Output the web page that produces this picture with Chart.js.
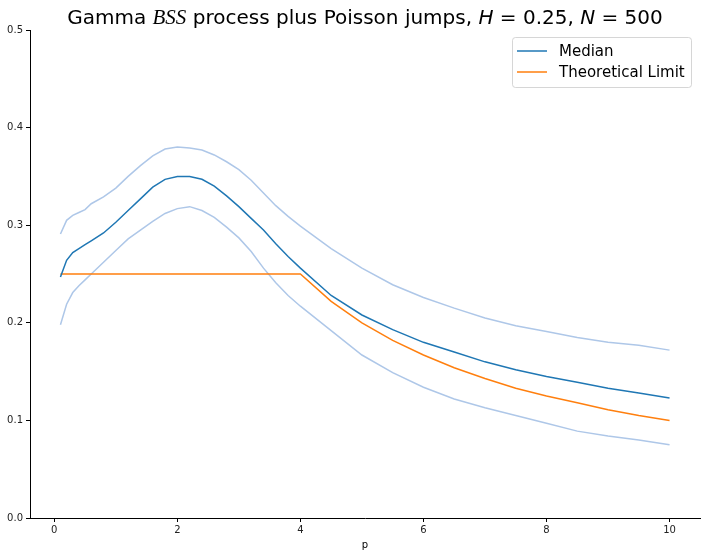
<!DOCTYPE html>
<html>
<head>
<meta charset="utf-8">
<script src="https://cdn.jsdelivr.net/npm/chart.js@4.4.1/dist/chart.umd.min.js"></script>
<style>
  html, body { margin: 0; padding: 0; background: #fff; }
  #wrap { width: 706px; height: 557px; position: relative; }
</style>
</head>
<body>
<div id="wrap"><canvas id="chart"></canvas></div>
<script>
  // values
  const pValues = [0.1, 0.2, 0.3, 0.4, 0.5, 0.6, 0.8, 1.0, 1.2, 1.4, 1.6, 1.8, 2.0, 2.2, 2.4, 2.6, 2.8, 3.0,
                   3.2, 3.4, 3.6, 3.8, 4.0, 4.5, 5.0, 5.5, 6.0, 6.5, 7.0, 7.5, 8.0, 8.5, 9.0, 9.5, 10.0];
  const median  = [0.247, 0.264, 0.272, 0.276, 0.280, 0.284, 0.292, 0.303, 0.315, 0.327, 0.339, 0.347, 0.350, 0.350,
                   0.347, 0.340, 0.330, 0.319, 0.307, 0.295, 0.281, 0.268, 0.256, 0.228, 0.208, 0.193, 0.180, 0.170,
                   0.160, 0.152, 0.145, 0.139, 0.133, 0.128, 0.123];
  const upper   = [0.291, 0.305, 0.310, 0.313, 0.316, 0.322, 0.329, 0.338, 0.350, 0.361, 0.371, 0.378, 0.380, 0.379,
                   0.377, 0.372, 0.365, 0.357, 0.346, 0.333, 0.320, 0.309, 0.299, 0.276, 0.256, 0.239, 0.226, 0.215,
                   0.205, 0.197, 0.191, 0.185, 0.180, 0.177, 0.172];
  const lower   = [0.198, 0.219, 0.231, 0.238, 0.244, 0.250, 0.262, 0.274, 0.286, 0.295, 0.304, 0.312, 0.317, 0.319,
                   0.315, 0.308, 0.298, 0.287, 0.273, 0.256, 0.241, 0.228, 0.217, 0.192, 0.167, 0.149, 0.134, 0.122,
                   0.113, 0.105, 0.097, 0.089, 0.084, 0.080, 0.075];
  const pLimit  = [0.1, 4.0, 4.5, 5.0, 5.5, 6.0, 6.5, 7.0, 7.5, 8.0, 8.5, 9.0, 9.5, 10.0];
  const limit   = [0.250, 0.250, 0.222, 0.200, 0.182, 0.167, 0.154, 0.143, 0.133, 0.125, 0.118, 0.111, 0.105, 0.100];
  const xTicks  = [0, 2, 4, 6, 8, 10];
  const yTicks  = [0.0, 0.1, 0.2, 0.3, 0.4, 0.5];

  const BLUE = '#1f77b4', ORANGE = '#ff7f0e', LIGHT = '#aec7e8';

  const pts = (xs, ys) => xs.map((x, i) => ({ x, y: ys[i] }));
  const line = (label, data, color) => ({
    label, data, borderColor: color, backgroundColor: color,
    borderWidth: 1.5, pointRadius: 0, tension: 0, fill: false
  });

  // title with mixed fonts, legend box and x label, drawn like matplotlib does
  const decor = {
    id: 'decor',
    afterDraw(chart) {
      const ctx = chart.ctx;
      const area = chart.chartArea;
      ctx.save();
      ctx.fillStyle = '#000';
      ctx.textBaseline = 'alphabetic';
      const reg = '20px "DejaVu Sans"';
      const ita = 'oblique 20px "DejaVu Sans"';
      const cal = 'italic 21px "Liberation Serif"';
      const parts = [
        ['Gamma ', reg], ['BSS', cal], [' process plus Poisson jumps, ', reg],
        ['H', ita], [' = 0.25, ', reg], ['N', ita], [' = 500', reg]
      ];
      let total = 0;
      parts.forEach(p => { ctx.font = p[1]; total += ctx.measureText(p[0]).width; });
      let x = (area.left + area.right) / 2 - total / 2;
      parts.forEach(p => {
        ctx.font = p[1];
        ctx.fillText(p[0], x, 24);
        x += ctx.measureText(p[0]).width;
      });

      // x axis label
      ctx.font = '10px "DejaVu Sans"';
      ctx.textAlign = 'center';
      ctx.fillText('p', (area.left + area.right) / 2, 548);

      // legend
      const bx = 512.5, by = 37.5, bw = 179, bh = 50;
      ctx.beginPath();
      ctx.roundRect(bx, by, bw, bh, 3);
      ctx.fillStyle = 'rgba(255,255,255,0.8)';
      ctx.fill();
      ctx.strokeStyle = 'rgba(204,204,204,0.8)';
      ctx.lineWidth = 1;
      ctx.stroke();
      const items = [['Median', BLUE, 51], ['Theoretical Limit', ORANGE, 72]];
      ctx.font = '15px "DejaVu Sans"';
      ctx.textAlign = 'left';
      ctx.textBaseline = 'middle';
      items.forEach(([txt, col, y]) => {
        ctx.beginPath();
        ctx.moveTo(517, y);
        ctx.lineTo(547, y);
        ctx.strokeStyle = col;
        ctx.lineWidth = 1.5;
        ctx.stroke();
        ctx.fillStyle = '#000';
        ctx.fillText(txt, 559, y + 1);
      });
      ctx.restore();
    }
  };

  new Chart(document.getElementById('chart'), {
    type: 'line',
    data: {
      datasets: [
        line('Median', pts(pValues, median), BLUE),
        line('Theoretical Limit', pts(pLimit, limit), ORANGE),
        line('upper', pts(pValues, upper), LIGHT),
        line('lower', pts(pValues, lower), LIGHT)
      ]
    },
    options: {
      responsive: true,
      maintainAspectRatio: false,
      animation: false,
      layout: { padding: { top: 30, right: 6, left: 0, bottom: 0 } },
      plugins: { legend: { display: false }, title: { display: false }, tooltip: { enabled: false } },
      scales: {
        x: {
          type: 'linear', min: -0.395, max: 10.495,
          afterBuildTicks: s => { s.ticks = xTicks.map(v => ({ value: v })); },
          afterFit: s => { s.height = 39; },
          grid: { drawOnChartArea: false, tickLength: 4, color: '#000', tickColor: '#000' },
          border: { display: true, color: '#000', width: 1 },
          ticks: { color: '#222', font: { family: 'DejaVu Sans', size: 10 }, padding: 2, maxRotation: 0,
                   callback: v => String(v) }
        },
        y: {
          type: 'linear', min: 0, max: 0.5,
          afterBuildTicks: s => { s.ticks = yTicks.map(v => ({ value: v })); },
          afterFit: s => { s.width = 30; },
          grid: { drawOnChartArea: false, tickLength: 4, color: '#000', tickColor: '#000' },
          border: { display: true, color: '#000', width: 1 },
          ticks: { color: '#222', font: { family: 'DejaVu Sans', size: 10 }, padding: 3,
                   callback: v => v.toFixed(1) }
        }
      }
    },
    plugins: [decor]
  });
</script>
</body>
</html>
